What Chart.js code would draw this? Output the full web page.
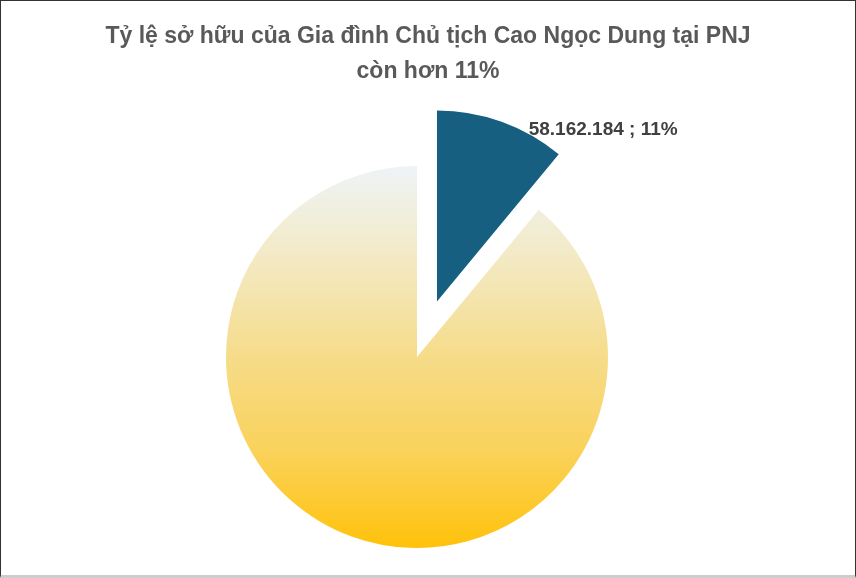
<!DOCTYPE html>
<html>
<head>
<meta charset="utf-8">
<script src="https://cdn.jsdelivr.net/npm/chart.js@4"></script>
<style>
  body { margin: 0; background: #fff; }
  #wrap { position: relative; width: 856px; height: 578px; overflow: hidden; }
  #frame { position: absolute; left: 0; top: 0; width: 856px; height: 578px; box-sizing: border-box;
           border: 1px solid #333; border-bottom: 3px solid #ccc; pointer-events: none; }
  #title { position: absolute; left: 0; top: 18px; width: 856px; text-align: center;
           font: bold 23px "Liberation Sans", Arial, sans-serif; color: #595959; line-height: 35px; }
  canvas { position: absolute; left: 0; top: 0; }
</style>
</head>
<body>
<div id="wrap">
  <canvas id="myChart" width="856" height="578"></canvas>
  <div id="title">Tỷ lệ sở hữu của Gia đình Chủ tịch Cao Ngọc Dung tại PNJ<br>còn hơn 11%</div>
  <div id="frame"></div>
</div>
<script>
// so co phieu
var labels = ["Gia đình Chủ tịch Cao Ngọc Dung", "Cổ đông khác"];
var shares = [58162184, 470600000];
var showLabel = [true, false];

var RADIUS = 191;
var EXPLODE = 59; // px keo mieng ra

// gradient cho mieng lon (theo chartArea)
function goldGradient(context) {
    var chart = context.chart;
    var area = chart.chartArea;
    if (!area) return '#F6DC88';
    var cy = (area.top + area.bottom) / 2;
    var g = chart.ctx.createLinearGradient(0, cy - RADIUS, 0, cy + RADIUS);
    g.addColorStop(0, '#EEF3F7');
    g.addColorStop(0.25, '#F3E9C2');
    g.addColorStop(0.5, '#F6DC8A');
    g.addColorStop(0.75, '#FAD25A');
    g.addColorStop(1, '#FFC20A');
    return g;
}

var explodePlugin = {
    id: 'explode',
    afterDatasetUpdate: function(chart) {
        var arc = chart.getDatasetMeta(0).data[0];
        if (arc && !arc._wrapped) {
            var base = arc.draw;
            arc.draw = function(ctx) {
                var mid = (this.startAngle + this.endAngle) / 2;
                ctx.save();
                ctx.translate(Math.cos(mid) * EXPLODE, Math.sin(mid) * EXPLODE);
                base.call(this, ctx);
                ctx.restore();
            };
            arc._wrapped = true;
        }
    }
};

var labelPlugin = {
    id: 'sliceLabel',
    afterDatasetsDraw: function(chart) {
        var ctx = chart.ctx;
        var meta = chart.getDatasetMeta(0);
        var total = shares.reduce(function(a, b) { return a + b; }, 0);
        meta.data.forEach(function(arc, i) {
            if (!showLabel[i]) return;
            var mid = (arc.startAngle + arc.endAngle) / 2;
            var r = arc.outerRadius + EXPLODE;
            var x = arc.x + Math.cos(mid) * r;
            var y = arc.y + Math.sin(mid) * r;
            var pct = Math.round(shares[i] / total * 100);
            var txt = shares[i].toLocaleString('de-DE') + ' ; ' + pct + '%';
            ctx.save();
            ctx.font = 'bold 19px "Liberation Sans", Arial, sans-serif';
            ctx.fillStyle = '#404040';
            ctx.textAlign = 'left';
            ctx.textBaseline = 'alphabetic';
            ctx.fillText(txt, x + 27, y + 13);
            ctx.restore();
        });
    }
};

var ctx = document.getElementById('myChart').getContext('2d');
var chart = new Chart(ctx, {
    type: 'pie',
    data: {
        labels: labels,
        datasets: [{
            data: shares,
            backgroundColor: function(c) { return c.dataIndex === 0 ? '#175F80' : goldGradient(c); },
            borderWidth: 0
        }]
    },
    options: {
        responsive: false,
        animation: false,
        radius: RADIUS,
        layout: { padding: { left: 0, right: 22, top: 136, bottom: 0 } },
        plugins: {
            legend: { display: false },
            tooltip: { enabled: false }
        }
    },
    plugins: [explodePlugin, labelPlugin]
});
</script>
</body>
</html>
